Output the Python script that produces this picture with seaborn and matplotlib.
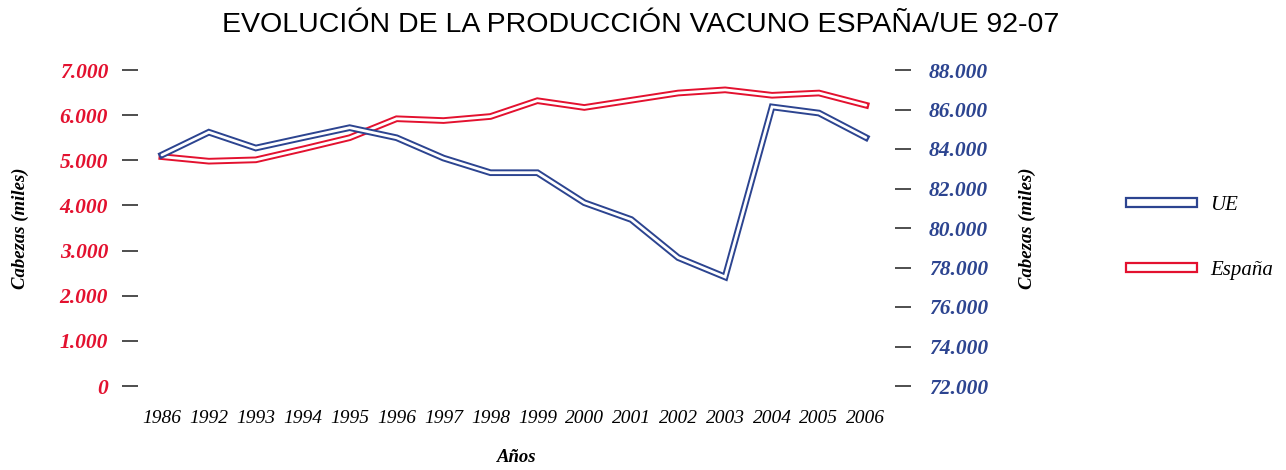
import matplotlib
matplotlib.use("Agg")
import matplotlib.pyplot as plt
import matplotlib.patheffects as pe
from matplotlib.patches import Patch
from matplotlib.ticker import FuncFormatter
import pandas as pd
import seaborn as sns

# datos (miles de cabezas)
years = ["1986", "1992", "1993", "1994", "1995", "1996", "1997", "1998",
         "1999", "2000", "2001", "2002", "2003", "2004", "2005", "2006"]
espana = [5080, 4980, 5010, 5250, 5500, 5920, 5880, 5970,
          6320, 6170, 6330, 6490, 6560, 6440, 6490, 6220]
ue = [83700, 84850, 84050, 84570, 85080, 84570, 83540, 82800,
      82800, 81280, 80430, 78500, 77520, 86130, 85820, 84580]

RED = "#e3112f"
BLUE = "#2c4490"
TICK = "#404040"

sns.set_style("white")
plt.rcParams["font.family"] = ["Liberation Serif", "DejaVu Serif"]
plt.rcParams["text.color"] = "black"
plt.rcParams["axes.labelcolor"] = "black"

df = pd.DataFrame({"year": years, "espana": espana, "ue": ue})


def miles(v, pos):
    return f"{int(round(v)):,}".replace(",", ".")


def double_line(color):
    return [pe.Stroke(linewidth=4.8, foreground=color, capstyle="projecting",
                      joinstyle="miter"),
            pe.Normal()]


fig = plt.figure(figsize=(12.86, 4.70), dpi=100)
ax = fig.add_axes([138 / 1286, 1 - 386 / 470, (895 - 138) / 1286, (386 - 70) / 470])
ax2 = ax.twinx()

sns.lineplot(data=df, x="year", y="espana", ax=ax, color="white", lw=2.0,
             solid_joinstyle="miter", path_effects=double_line(RED), clip_on=False)
sns.lineplot(data=df, x="year", y="ue", ax=ax2, color="white", lw=2.0,
             solid_joinstyle="miter", path_effects=double_line(BLUE), clip_on=False)

ax.set_xlim(-0.51, len(years) - 1 + 0.62)
ax.set_ylim(0, 7000)
ax.set_yticks(range(0, 7001, 1000))
ax2.set_ylim(72000, 88000)
ax2.set_yticks(range(72000, 88001, 2000))
ax.yaxis.set_major_formatter(FuncFormatter(miles))
ax2.yaxis.set_major_formatter(FuncFormatter(miles))

for a in (ax, ax2):
    for s in a.spines.values():
        s.set_visible(False)

ax.tick_params(axis="y", direction="out", length=11.5, width=1.3, color=TICK,
               pad=10, labelcolor=RED, labelsize=15.5)
ax2.tick_params(axis="y", direction="out", length=11.5, width=1.3, color=TICK,
                pad=13, labelcolor=BLUE, labelsize=15.5)
ax.tick_params(axis="x", length=0, pad=17, labelsize=14, labelcolor="black")
for lab in ax.get_yticklabels() + ax2.get_yticklabels():
    lab.set_fontstyle("italic")
    lab.set_fontweight("bold")
for lab in ax.get_xticklabels():
    lab.set_fontstyle("italic")

ax.set_xlabel("Años", fontsize=13.5, fontstyle="italic", fontweight="bold", labelpad=16)
ax.set_ylabel("Cabezas (miles)", fontsize=13.5, fontstyle="italic",
              fontweight="bold", labelpad=22)
ax2.set_ylabel("Cabezas (miles)", fontsize=13.5, fontstyle="italic",
               fontweight="bold", labelpad=22)

fig.suptitle("EVOLUCIÓN DE LA PRODUCCIÓN VACUNO ESPAÑA/UE 92-07",
             x=0.498, y=0.975, fontsize=20.5, family="Liberation Sans", color="black")

handles = [Patch(facecolor="white", edgecolor=BLUE, lw=1.6, label="UE"),
           Patch(facecolor="white", edgecolor=RED, lw=1.6, label="España")]
fig.legend(handles=handles, loc="upper left", bbox_to_anchor=(1107 / 1286, 1 - 177 / 470),
           frameon=False, handlelength=3.4, handleheight=0.28, labelspacing=2.2,
           handletextpad=0.65, prop={"size": 15, "style": "italic"})

fig.savefig("out.png", dpi=100)
